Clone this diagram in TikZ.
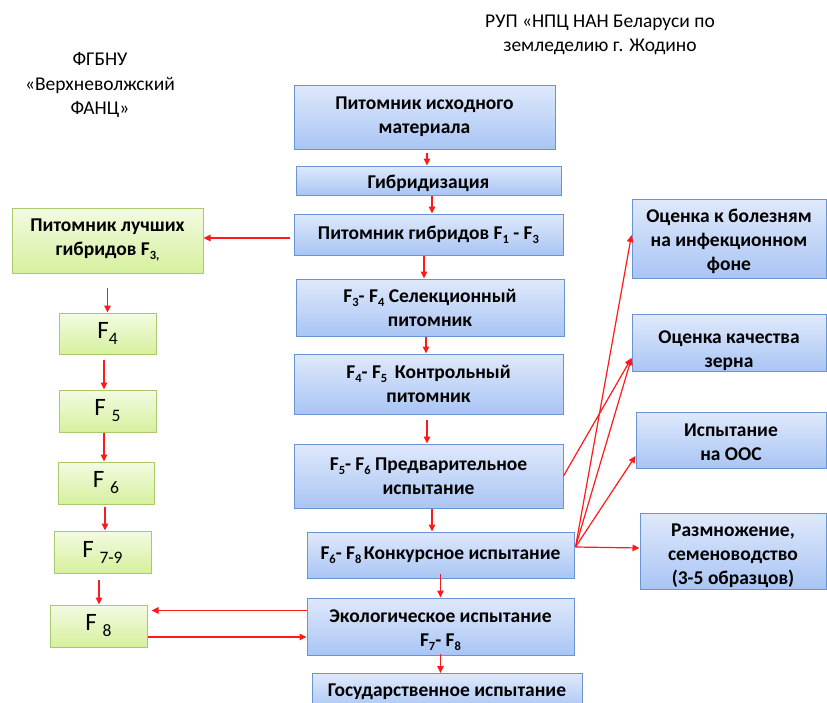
\documentclass[tikz,border=0pt]{standalone}
\usepackage{fontspec}
\setmainfont{Carlito}
\usetikzlibrary{arrows.meta,calc}
\definecolor{btop}{HTML}{DFE9FB}
\definecolor{bbot}{HTML}{A9C5F4}
\definecolor{bborder}{HTML}{6A93D2}
\definecolor{gtop}{HTML}{F3FBE2}
\definecolor{gbot}{HTML}{D6F09E}
\definecolor{gborder}{HTML}{A9C96C}
\definecolor{arrred}{HTML}{FF1A1A}
\newcommand\lowsub[1]{\raisebox{-4pt}{\fontsize{12.5}{12.5}\selectfont #1}}
\newcommand\gsub[1]{\raisebox{-6pt}{\fontsize{17.5}{17.5}\selectfont #1}}
\newcommand\dnstrut[1]{\rule{0pt}{#1}}
\begin{document}
\begin{tikzpicture}[x=1pt,y=-1pt,
  bbox/.style={draw=bborder, line width=1pt, top color=btop, bottom color=bbot,
    align=center, inner sep=0pt, font=\bfseries\fontsize{19.5}{24}\selectfont},
  gbox/.style={draw=gborder, line width=1pt, top color=gtop, bottom color=gbot,
    align=center, inner sep=0pt},
  gfont/.style={font=\fontsize{25}{27}\selectfont},
  arr/.style={draw=arrred, line width=1.2pt, -{Triangle[length=7pt,width=6.5pt]}},
  hdr/.style={align=center, font=\fontsize{19.5}{24.5}\selectfont}]
\clip (0,0) rectangle (827,702);
\fill[white] (0,0) rectangle (827,702);

% headers
\node[hdr] (hr) at (600,35) {РУП «НПЦ НАН Беларуси по\\земледелию г. Жодино};
\node[hdr] (hl) at (100,85) {ФГБНУ\\«Верхневолжский\\ФАНЦ»};

% central column
\node[bbox, minimum width=261pt, minimum height=64pt] (b1) at (424.5,117) {Питомник исходного\\материала};
\node[bbox, minimum width=265pt, minimum height=29pt] (b2) at (428.5,180.5) {\dnstrut{20pt}Гибридизация};
\node[bbox, minimum width=269pt, minimum height=41pt] (b3) at (428.5,234.5) {Питомник гибридов F\lowsub{1} - F\lowsub{3}};
\node[bbox, minimum width=268pt, minimum height=57pt] (b4) at (430,307.5) {F\lowsub{3}- F\lowsub{4} Селекционный\\питомник};
\node[bbox, minimum width=269pt, minimum height=60pt] (b5) at (428.5,384) {F\lowsub{4}- F\lowsub{5} \,Контрольный\\питомник};
\node[bbox, minimum width=269pt, minimum height=64pt] (b6) at (428.5,476) {F\lowsub{5}- F\lowsub{6} Предварительное\\испытание};
\node[bbox, minimum width=267pt, minimum height=46pt] (b7) at (440.5,555) {F\lowsub{6}- F\lowsub{8}\hspace{2.5pt}Конкурсное испытание};
\node[bbox, minimum width=267pt, minimum height=57pt] (b8) at (440.5,626.5) {\dnstrut{20pt}Экологическое испытание\\F\lowsub{7}- F\lowsub{8}};
\node[bbox, minimum width=270pt, minimum height=37pt] (b9) at (447,692) {Государственное испытание};

% right column
\node[bbox, minimum width=194pt, minimum height=79pt] (r1) at (729,238.5) {\dnstrut{20pt}Оценка к болезням\\на инфекционном\\фоне};
\node[bbox, minimum width=194pt, minimum height=50pt] (r2) at (729,343) {\dnstrut{29pt}Оценка качества\\зерна};
\node[bbox, minimum width=190pt, minimum height=56pt] (r3) at (731,440) {\dnstrut{17pt}Испытание\\на ООС};
\node[bbox, minimum width=186pt, minimum height=76pt] (r4) at (733,551) {\dnstrut{23pt}Размножение,\\семеноводство\\(3-5 образцов)};

% left column
\node[gbox, minimum width=191pt, minimum height=65pt, font=\bfseries\fontsize{19.5}{24}\selectfont] (g1) at (107.5,240.5) {Питомник лучших\\гибридов F\lowsub{3,}};
\node[gbox, gfont, minimum width=97pt, minimum height=41pt] (g2) at (107.5,333.5) {F\gsub{4}};
\node[gbox, gfont, minimum width=97pt, minimum height=42pt] (g3) at (107.5,411) {F \gsub{5}};
\node[gbox, gfont, minimum width=96pt, minimum height=42pt] (g4) at (106,483) {F \gsub{6}};
\node[gbox, gfont, minimum width=97pt, minimum height=42pt] (g5) at (102.5,552) {F \gsub{7-9}};
\node[gbox, gfont, minimum width=97pt, minimum height=42pt] (g6) at (98.5,626) {F \gsub{8}};

% central arrows
\draw[arr, shorten <=3pt] ([xshift=2.5pt]b1.south) -- ([xshift=2.5pt]b1.south |- b2.north);
\draw[arr] ([xshift=3.5pt]b2.south) -- ([xshift=3.5pt]b2.south |- b3.north);
\draw[arr] ([xshift=-4.5pt]b3.south) -- ([xshift=-4.5pt]b3.south |- b4.north);
\draw[arr] ([xshift=-4pt]b4.south) -- ([xshift=-4pt]b4.south |- b5.north);
\draw[arr, shorten <=5pt] ([xshift=-1.5pt]b5.south) -- ([xshift=-1.5pt]b5.south |- b6.north);
\draw[arr] ([xshift=3.5pt]b6.south) -- ([xshift=3.5pt]b6.south |- b7.north);
\draw[arr, shorten <=-5pt] (b7.south) -- (b8.north);
\draw[arr, shorten <=-2pt] (b8.south) -- (b8.south |- b9.north);

% to left column
\draw[arr] ([yshift=-3.5pt,xshift=-4pt]b3.west) -- ([yshift=-3.5pt]b3.west -| g1.east);
\draw[arr] ([yshift=16pt]b8.west) -- ([yshift=16pt,xshift=4pt]b8.west -| g6.east);
\draw[arr] ([yshift=-11pt]g6.east) -- ([yshift=-11pt]g6.east -| b8.west);

% left column arrows
\draw[arr, shorten <=14pt] (g1.south) -- (g2.north);
\draw[arr, shorten <=5pt] ([xshift=-3.5pt]g2.south) -- ([xshift=-3.5pt]g2.south |- g3.north);
\draw[arr] ([xshift=-3.5pt]g3.south) -- ([xshift=-3.5pt]g3.south |- g4.north);
\draw[arr, shorten <=2pt] ([xshift=-1pt]g4.south) -- ([xshift=-1pt]g4.south |- g5.north);
\draw[arr, shorten <=6pt] ([xshift=-3.5pt]g5.south) -- ([xshift=-3.5pt]g5.south |- g6.north);

% fan to right column
\coordinate (src) at ([yshift=8pt,xshift=1pt]b7.east);
\draw[arr] (src) -- ([yshift=3.5pt]r1.west);
\draw[arr] (src) -- ([yshift=-15pt]r2.west);
\draw[arr] (src) -- ([yshift=-16pt]r3.west);
\draw[arr] (src) -- ([yshift=3pt]r4.west);
\draw[arr] (b6.east) -- ([yshift=-15pt]r2.west);
\end{tikzpicture}
\end{document}
